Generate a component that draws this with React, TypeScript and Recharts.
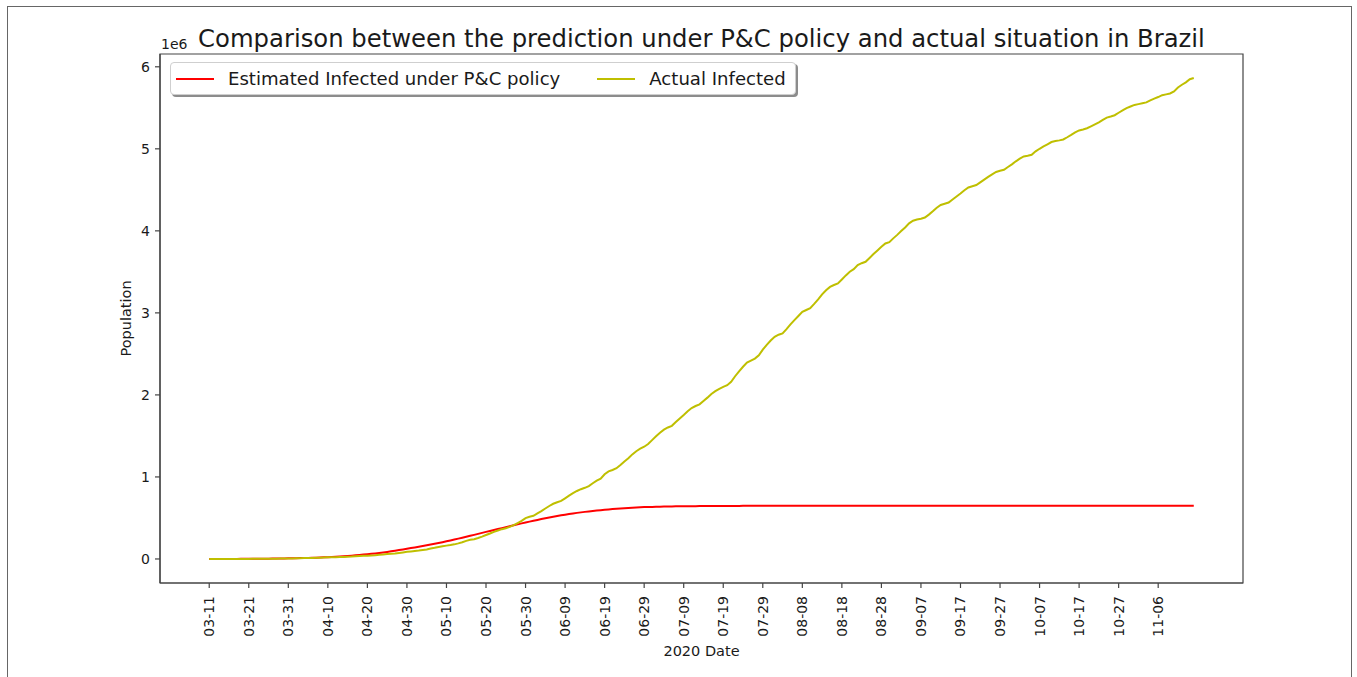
import React from 'react';
import { LineChart, Line, XAxis, YAxis, Legend, ReferenceArea } from 'recharts';

// Brazil, 2020-03-11 .. 2020-11-15, one value per day (unit: 1e6 people)
const actualInfected = [
  0.0001, 0.0001, 0.0001, 0.0001, 0.0002, 0.0002, 0.0003, 0.0004, 0.0006, 0.0009,
  0.0011, 0.0015, 0.0019, 0.0022, 0.0026, 0.003, 0.0034, 0.0039, 0.0043, 0.0046,
  0.0057, 0.0068, 0.008, 0.0091, 0.0104, 0.0111, 0.0122, 0.014, 0.0162, 0.0181,
  0.0196, 0.0207, 0.0222, 0.0234, 0.0253, 0.0283, 0.0304, 0.0337, 0.0367, 0.0387,
  0.0407, 0.0431, 0.0458, 0.05, 0.054, 0.0593, 0.0631, 0.0674, 0.0732, 0.0797,
  0.0872, 0.0922, 0.0971, 0.1018, 0.1086, 0.1155, 0.1266, 0.1358, 0.1469, 0.1561,
  0.1627, 0.1696, 0.1782, 0.1901, 0.2032, 0.2203, 0.2335, 0.2411, 0.2554, 0.2719,
  0.2916, 0.3101, 0.3309, 0.3474, 0.3632, 0.3749, 0.3912, 0.4118, 0.4382, 0.4652,
  0.4984, 0.5148, 0.5264, 0.5554, 0.584, 0.6149, 0.6458, 0.6728, 0.6918, 0.7074,
  0.7395, 0.7724, 0.8028, 0.8288, 0.8505, 0.8676, 0.8883, 0.9232, 0.9554, 0.9781,
  1.0329, 1.0676, 1.085, 1.1065, 1.1459, 1.1886, 1.2281, 1.275, 1.3137, 1.3441,
  1.3682, 1.402, 1.4488, 1.4969, 1.5391, 1.577, 1.6031, 1.6233, 1.6686, 1.7132,
  1.7558, 1.8008, 1.8399, 1.8647, 1.885, 1.9268, 1.9667, 2.0122, 2.0463, 2.0749,
  2.0984, 2.1186, 2.1597, 2.2275, 2.2875, 2.3434, 2.3945, 2.4191, 2.4424, 2.4832,
  2.5523, 2.6101, 2.6625, 2.7079, 2.7337, 2.7503, 2.8019, 2.8591, 2.9122, 2.9624,
  3.0124, 3.0354, 3.0575, 3.1096, 3.1648, 3.2249, 3.2755, 3.3171, 3.3402, 3.3596,
  3.4074, 3.4567, 3.502, 3.5323, 3.5824, 3.6058, 3.6229, 3.67, 3.7172, 3.7614,
  3.8048, 3.8462, 3.8623, 3.9083, 3.9509, 3.9979, 4.0416, 4.0918, 4.123, 4.1375,
  4.1478, 4.1621, 4.1979, 4.2384, 4.2822, 4.3157, 4.3305, 4.3456, 4.3823, 4.4191,
  4.4554, 4.4952, 4.5282, 4.5446, 4.558, 4.5914, 4.625, 4.6579, 4.6894, 4.7179,
  4.7323, 4.7451, 4.7779, 4.8103, 4.8477, 4.8803, 4.9068, 4.9152, 4.9273, 4.9697,
  5.0007, 5.0288, 5.0552, 5.0825, 5.0943, 5.1031, 5.114, 5.141, 5.17, 5.201,
  5.2244, 5.2359, 5.2506, 5.2738, 5.2983, 5.3235, 5.3539, 5.381, 5.3946, 5.4097,
  5.4396, 5.469, 5.4963, 5.5164, 5.5354, 5.545, 5.555, 5.566, 5.59, 5.612,
  5.6312, 5.6538, 5.664, 5.675, 5.7, 5.748, 5.781, 5.81, 5.848, 5.8631,
];

const estimatedInfected = [
  0.0, 0.0, 0.001, 0.001, 0.001, 0.001, 0.001, 0.001, 0.002, 0.002,
  0.002, 0.003, 0.003, 0.003, 0.004, 0.004, 0.005, 0.005, 0.006, 0.007,
  0.008, 0.009, 0.01, 0.011, 0.012, 0.013, 0.015, 0.016, 0.018, 0.02,
  0.022, 0.024, 0.027, 0.03, 0.033, 0.036, 0.04, 0.044, 0.048, 0.053,
  0.058, 0.063, 0.068, 0.074, 0.08, 0.086, 0.093, 0.1, 0.108, 0.116,
  0.125, 0.133, 0.141, 0.15, 0.159, 0.168, 0.177, 0.186, 0.195, 0.205,
  0.215, 0.226, 0.237, 0.248, 0.259, 0.27, 0.282, 0.294, 0.306, 0.318,
  0.33, 0.342, 0.353, 0.365, 0.376, 0.388, 0.399, 0.411, 0.422, 0.434,
  0.445, 0.455, 0.466, 0.476, 0.486, 0.496, 0.505, 0.514, 0.523, 0.532,
  0.54, 0.548, 0.555, 0.562, 0.568, 0.574, 0.58, 0.585, 0.59, 0.595,
  0.6, 0.604, 0.608, 0.612, 0.615, 0.618, 0.621, 0.624, 0.627, 0.63,
  0.632, 0.634, 0.635, 0.637, 0.638, 0.639, 0.64, 0.641, 0.642, 0.642,
  0.643, 0.643, 0.644, 0.644, 0.645, 0.645, 0.645, 0.646, 0.646, 0.646,
  0.647, 0.647, 0.647, 0.647, 0.647, 0.648, 0.648, 0.648, 0.648, 0.648,
  0.648, 0.648, 0.648, 0.648, 0.648, 0.648, 0.648, 0.648, 0.648, 0.648,
  0.648, 0.648, 0.648, 0.648, 0.648, 0.648, 0.648, 0.648, 0.648, 0.648,
  0.648, 0.648, 0.648, 0.648, 0.648, 0.648, 0.648, 0.648, 0.648, 0.648,
  0.648, 0.648, 0.648, 0.648, 0.648, 0.648, 0.648, 0.648, 0.648, 0.648,
  0.648, 0.648, 0.648, 0.648, 0.648, 0.648, 0.648, 0.648, 0.648, 0.648,
  0.648, 0.648, 0.648, 0.648, 0.648, 0.648, 0.648, 0.648, 0.648, 0.648,
  0.648, 0.648, 0.648, 0.648, 0.648, 0.648, 0.648, 0.648, 0.648, 0.648,
  0.648, 0.648, 0.648, 0.648, 0.648, 0.648, 0.648, 0.648, 0.648, 0.648,
  0.648, 0.648, 0.648, 0.648, 0.648, 0.648, 0.648, 0.648, 0.648, 0.648,
  0.648, 0.648, 0.648, 0.648, 0.648, 0.648, 0.648, 0.648, 0.648, 0.648,
  0.648, 0.648, 0.648, 0.648, 0.648, 0.648, 0.648, 0.648, 0.648, 0.648,
];

// x tick positions (days since 03-11) and their labels
const tickDays = [0, 10, 20, 30, 40, 50, 60, 70, 80, 90, 100, 110, 120, 130, 140, 150, 160, 170, 180, 190, 200, 210, 220, 230, 240];
const tickLabels = [
  '03-11', '03-21', '03-31', '04-10', '04-20', '04-30', '05-10', '05-20', '05-30',
  '06-09', '06-19', '06-29', '07-09', '07-19', '07-29', '08-08', '08-18', '08-28',
  '09-07', '09-17', '09-27', '10-07', '10-17', '10-27', '11-06',
];
const yTicks = [0, 1, 2, 3, 4, 5, 6];

const X_DOMAIN = [-12.45, 261.45];
const Y_DOMAIN = [-0.293, 6.156];

const series = [
  { key: 'estimated', name: 'Estimated Infected under P&C policy', color: '#ff0000' },
  { key: 'actual', name: 'Actual Infected', color: '#bfbf00' },
];

const data = actualInfected.map((v, i) => ({
  day: i,
  estimated: estimatedInfected[i],
  actual: v,
}));

const FONT = '"DejaVu Sans", sans-serif';
const AXIS = '#444';
const TEXT = '#1a1a1a';

const DateTick = (props: any) => {
  const { x, y, payload } = props;
  const idx = tickDays.indexOf(payload.value);
  return (
    <g transform={`translate(${x},${y})`}>
      <text
        transform="rotate(-90)"
        textAnchor="end"
        dominantBaseline="central"
        fontSize={14}
        fontFamily={FONT}
        fill={TEXT}
      >
        {idx >= 0 ? tickLabels[idx] : ''}
      </text>
    </g>
  );
};

const LegendBox = () => (
  <div
    style={{
      display: 'flex',
      alignItems: 'center',
      height: 33,
      width: 626,
      boxSizing: 'border-box',
      border: '1px solid #cfcfcf',
      borderRadius: 4,
      background: '#fff',
      boxShadow: '2px 2px 0 #8c8c8c',
      fontFamily: FONT,
      fontSize: 18.1,
      color: TEXT,
      paddingLeft: 5,
    }}
  >
    {series.map((s, i) => (
      <div key={s.key} style={{ display: 'flex', alignItems: 'center', marginLeft: i === 0 ? 0 : 37 }}>
        <svg width={38} height={4} style={{ marginRight: 14 }}>
          <line x1={0} y1={2} x2={38} y2={2} stroke={s.color} strokeWidth={2} />
        </svg>
        <span style={{ whiteSpace: 'nowrap' }}>{s.name}</span>
      </div>
    ))}
  </div>
);

export default function App() {
  return (
    <div style={{ position: 'absolute', left: 0, top: 0, width: 1357, height: 677, background: '#fff', overflow: 'hidden' }}>
      <div
        style={{
          position: 'absolute',
          left: 7,
          top: 6,
          width: 1343,
          height: 690,
          border: '1px solid #666',
        }}
      />
      <div
        style={{
          position: 'absolute',
          left: 701.5,
          top: 24,
          transform: 'translateX(-50%)',
          whiteSpace: 'nowrap',
          fontFamily: FONT,
          fontSize: 24.3,
          lineHeight: '30px',
          color: TEXT,
        }}
      >
        Comparison between the prediction under P&amp;C policy and actual situation in Brazil
      </div>
      <div
        style={{
          position: 'absolute',
          left: 161,
          top: 36,
          fontFamily: FONT,
          fontSize: 14,
          lineHeight: '17px',
          color: TEXT,
        }}
      >
        1e6
      </div>
      <LineChart
        width={1357}
        height={677}
        data={data}
        margin={{ top: 54, right: 114, bottom: 14, left: 100 }}
        style={{ position: 'absolute', left: 0, top: 0 }}
      >
        <XAxis
          dataKey="day"
          type="number"
          domain={X_DOMAIN}
          ticks={tickDays}
          interval={0}
          allowDataOverflow
          height={80}
          stroke={AXIS}
          strokeWidth={1.2}
          tickSize={5}
          tickMargin={8}
          tick={<DateTick />}
          label={{ value: '2020 Date', position: 'insideBottom', offset: 7, fill: TEXT, fontSize: 14.5, fontFamily: FONT }}
        />
        <YAxis
          type="number"
          domain={Y_DOMAIN}
          ticks={yTicks}
          interval={0}
          allowDataOverflow
          width={60}
          stroke={AXIS}
          strokeWidth={1.2}
          tickSize={5}
          tickMargin={5}
          tick={{ fill: TEXT, fontSize: 14, fontFamily: FONT }}
          label={{
            value: 'Population',
            angle: -90,
            position: 'insideLeft',
            offset: 26,
            fill: TEXT,
            fontSize: 14.5,
            fontFamily: FONT,
            style: { textAnchor: 'middle' },
          }}
        />
        {/* axes frame (top and right spines) */}
        <ReferenceArea
          x1={X_DOMAIN[0]}
          x2={X_DOMAIN[1]}
          y1={Y_DOMAIN[0]}
          y2={Y_DOMAIN[1]}
          fill="none"
          fillOpacity={0}
          stroke={AXIS}
          strokeWidth={1.2}
          ifOverflow="visible"
        />
        <Legend
          content={<LegendBox />}
          layout="horizontal"
          verticalAlign="middle"
          align="center"
          wrapperStyle={{ position: 'absolute', left: 170, top: 62, width: 'auto', height: 'auto' }}
        />
        {series.map((s) => (
          <Line
            key={s.key}
            name={s.name}
            dataKey={s.key}
            type="linear"
            stroke={s.color}
            strokeWidth={2}
            dot={false}
            isAnimationActive={false}
          />
        ))}
      </LineChart>
    </div>
  );
}
